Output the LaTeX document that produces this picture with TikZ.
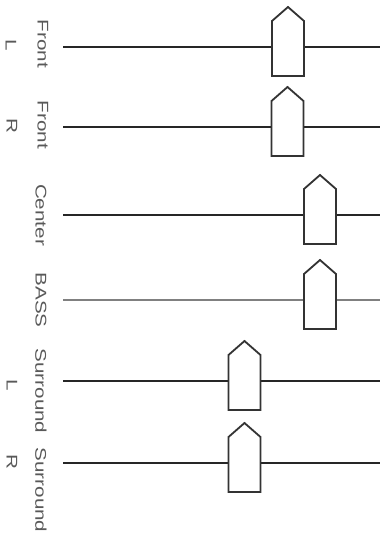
\documentclass[tikz,border=0pt]{standalone}
\usepackage{fontspec}
\setmainfont{Liberation Sans}
\begin{document}
\begin{tikzpicture}[x=1pt,y=-1pt,
  track/.style={line width=1.6pt, draw=black!85},
  basstrack/.style={line width=1.6pt, draw=black!50},
  knob/.style={line width=1.8pt, draw=black!80, fill=white, line join=miter},
  lab/.style={rotate=-90, inner sep=0pt, text=black!65, font=\fontsize{15.5}{18}\selectfont}]
\useasboundingbox (0,0) rectangle (390,539);
\newcommand\faderknob[2]{%
  \draw[knob] (#1-16,#2+29) -- (#1-16,#2-26) -- (#1,#2-40) -- (#1+16,#2-26) -- (#1+16,#2+29) -- cycle;}
% track ends
\coordinate (s1) at (63,47);  \coordinate (e1) at (380,47);
\coordinate (s2) at (63,127); \coordinate (e2) at (380,127);
\coordinate (s3) at (63,215); \coordinate (e3) at (380,215);
\coordinate (s4) at (63,300); \coordinate (e4) at (380,300);
\coordinate (s5) at (63,381); \coordinate (e5) at (380,381);
\coordinate (s6) at (63,463); \coordinate (e6) at (380,463);
\draw[track] (s1) -- (e1);
\draw[track] (s2) -- (e2);
\draw[track] (s3) -- (e3);
\draw[basstrack] (s4) -- (e4);
\draw[track] (s5) -- (e5);
\draw[track] (s6) -- (e6);
% knobs
\faderknob{288}{47}
\faderknob{287.5}{127}
\faderknob{320}{215}
\faderknob{320}{300}
\faderknob{244.5}{381}
\faderknob{244.5}{463}
% labels
\node[lab] (fl1) at (43,44) {\scalebox{1.33}[1]{Front}};
\node[lab] (fl2) at (11,45) {\scalebox{1.33}[1]{L}};
\node[lab] (fr1) at (43,125) {\scalebox{1.33}[1]{Front}};
\node[lab] (fr2) at (12,126) {\scalebox{1.33}[1]{R}};
\node[lab] (c1) at (41,215) {\scalebox{1.33}[1]{Center}};
\node[lab] (b1) at (41,300) {\scalebox{1.33}[1]{BASS}};
\node[lab] (sl1) at (41,391) {\scalebox{1.33}[1]{Surround}};
\node[lab] (sl2) at (12,385) {\scalebox{1.33}[1]{L}};
\node[lab] (sr1) at (41,490) {\scalebox{1.33}[1]{Surround}};
\node[lab] (sr2) at (12,462) {\scalebox{1.33}[1]{R}};
\end{tikzpicture}
\end{document}
